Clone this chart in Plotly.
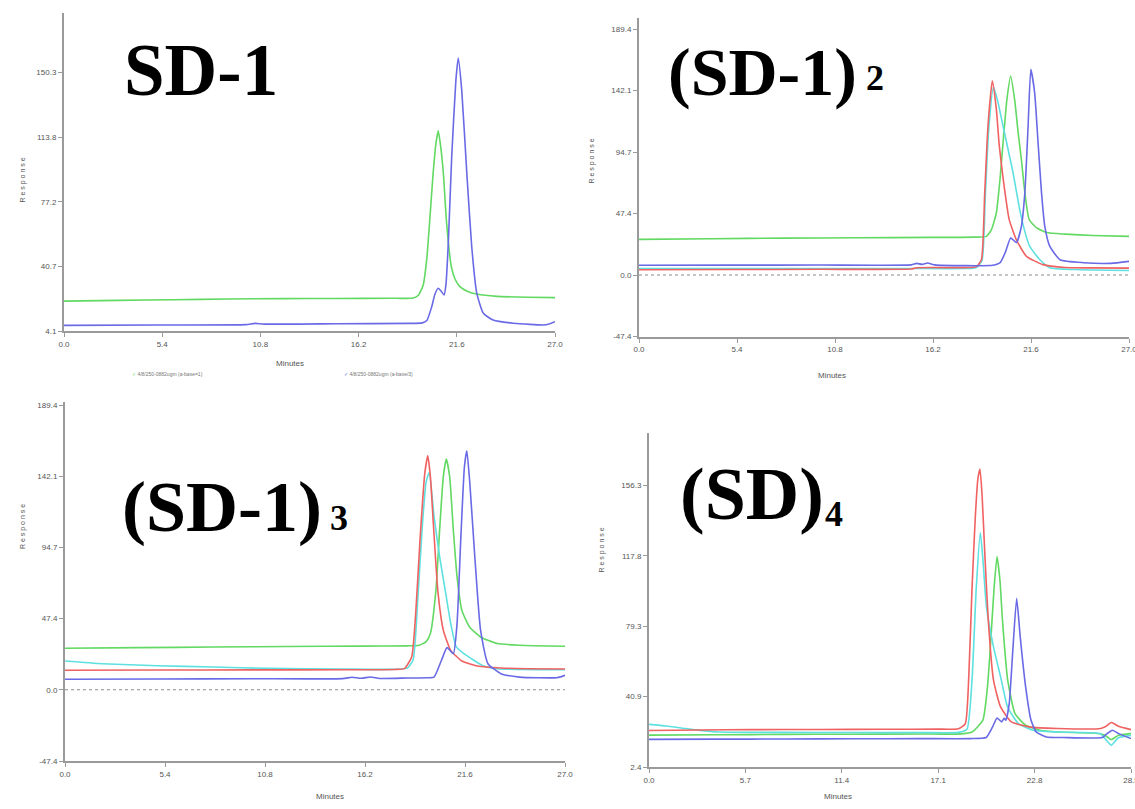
import plotly.graph_objects as go

W, H = 1135, 809

# ---------------- data ----------------
# Panel 1: SD-1
p1_green_t = [0, 3, 6, 9, 12, 15, 18, 19.2, 19.5, 19.75, 19.95, 20.1, 20.3, 20.45, 20.58, 20.72, 20.86, 21.04, 21.3, 21.5, 21.77, 22.2, 22.7, 23.8, 25.5, 27.0]
p1_green_v = [21.0, 21.4, 21.8, 22.2, 22.4, 22.5, 22.6, 22.8, 24.5, 30, 45, 65, 93.5, 110, 117.3, 108, 93.5, 65, 40.5, 33.5, 29.2, 26.5, 25, 23.7, 23.2, 23.0]
p1_blue_t = [0, 5, 10, 10.5, 11, 15, 19.0, 19.7, 19.95, 20.22, 20.4, 20.58, 20.75, 20.9, 21.0, 21.14, 21.32, 21.55, 21.68, 21.87, 22.15, 22.42, 22.7, 23.06, 23.6, 24.7, 26.5, 27.0]
p1_blue_v = [7.3, 7.5, 7.7, 8.4, 8.0, 8.2, 8.4, 8.7, 10, 17.8, 25, 28.3, 26.5, 24.5, 30, 55.6, 102.7, 146, 158.5, 140.5, 93.5, 51.9, 25.4, 14.1, 10.3, 8.5, 7.6, 9.4]

# Panel 2: (SD-1)2
p2_green_t = [0, 4, 8, 12, 16, 18.5, 19.14, 19.42, 19.69, 19.9, 20.06, 20.27, 20.48, 20.7, 20.89, 21.07, 21.26, 21.5, 21.9, 22.45, 23.5, 25, 27]
p2_green_v = [27.5, 28.0, 28.4, 28.7, 29.0, 29.2, 29.8, 35, 48, 75, 102, 135, 153.4, 135, 110, 89, 63.6, 42.7, 36.5, 32.7, 31.5, 30.5, 29.8]
p2_cyan_t = [0, 5, 10, 15, 18.0, 18.6, 18.9, 19.08, 19.27, 19.53, 19.75, 20.06, 20.35, 20.61, 20.98, 21.25, 21.53, 22.09, 22.64, 24, 27]
p2_cyan_v = [5.0, 5.0, 5.0, 5.0, 5.0, 5.8, 11, 60, 112, 144.7, 135, 114.8, 96, 78.8, 50.4, 34, 22, 11.8, 5.6, 4.2, 3.5]
p2_red_t = [0, 5, 10, 15, 15.3, 18.0, 18.6, 18.87, 19.05, 19.23, 19.47, 19.69, 19.85, 20.05, 20.4, 20.8, 21.35, 22.26, 23.5, 25, 27]
p2_red_v = [4.0, 4.2, 4.4, 4.6, 5.6, 5.7, 6.5, 12, 63.5, 115, 149.6, 127.7, 100, 76, 42.7, 27, 14.4, 8, 5.8, 5.5, 5.3]
p2_blue_t = [0, 5, 10, 15.0, 15.3, 15.6, 15.9, 16.3, 18, 19.5, 19.9, 20.2, 20.48, 20.8, 21.07, 21.26, 21.44, 21.59, 21.8, 21.99, 22.18, 22.36, 22.64, 23.2, 24.5, 26, 27]
p2_blue_v = [7.5, 7.6, 7.7, 7.8, 9.0, 8.2, 9.2, 7.8, 7.2, 7.5, 9.5, 18, 28.6, 25, 37.5, 63.3, 114.8, 158.6, 140.6, 101.9, 63.3, 37.5, 22, 11.8, 9.5, 9.0, 10.5]

# Panel 3: (SD-1)3
p3_green_t = [0, 4, 8, 12, 16, 18.5, 19.13, 19.5, 19.73, 20.03, 20.23, 20.43, 20.59, 20.77, 20.97, 21.17, 21.43, 21.84, 22.44, 23.34, 24.55, 27]
p3_green_v = [27.6, 28.0, 28.4, 28.8, 29.0, 29.2, 29.6, 32, 37.4, 66.3, 106.3, 141.9, 153.4, 141.9, 106.3, 75.2, 52.9, 41.8, 35.1, 30.7, 29.6, 28.9]
p3_cyan_t = [0, 2, 5, 8, 11, 15, 18.0, 18.5, 18.8, 19.05, 19.3, 19.5, 19.67, 19.93, 20.23, 20.53, 20.83, 21.13, 21.54, 21.94, 22.54, 23.34, 27]
p3_cyan_v = [19.1, 17.3, 16.0, 15.1, 14.2, 13.8, 13.6, 14.5, 20, 60, 110, 138, 144.5, 115.2, 88.5, 66.3, 44, 28.5, 24, 20.7, 16.2, 14, 13.3]
p3_red_t = [0, 5, 10, 15, 17.8, 18.32, 18.72, 18.96, 19.17, 19.43, 19.59, 19.73, 19.89, 20.13, 20.43, 20.83, 21.43, 22.34, 23.54, 25, 27]
p3_red_v = [13.0, 13.1, 13.2, 13.3, 13.5, 14.0, 21.8, 55.1, 99.6, 144.1, 155.6, 141.9, 110.7, 66.3, 39.6, 26.2, 19.1, 15.6, 14.5, 14.0, 13.8]
p3_blue_t = [0, 5, 10, 15, 15.5, 16, 16.5, 17, 18.5, 19.6, 19.93, 20.33, 20.63, 20.97, 21.17, 21.37, 21.57, 21.7, 21.86, 22.13, 22.44, 22.84, 23.54, 24.55, 26.56, 27]
p3_blue_v = [7.0, 7.1, 7.3, 7.4, 8.3, 7.6, 8.5, 7.5, 7.8, 8.0, 8.4, 19.6, 28, 24, 44, 99.6, 148.5, 159, 137.5, 88.5, 39.6, 17.3, 10.7, 8.4, 8.0, 9.6]

# Panel 4: (SD)4
p4_green_t = [0, 4, 8, 12, 16, 18.5, 19.1, 19.74, 20.0, 20.16, 20.41, 20.58, 20.75, 20.9, 21.21, 21.64, 22.27, 23.12, 24.17, 26.7, 27.0, 27.34, 27.76, 28.5]
p4_green_v = [19.8, 20.0, 20.2, 20.3, 20.4, 20.5, 21.5, 28, 45, 64.4, 100.9, 117.3, 104.5, 82.6, 49.8, 31.6, 25.2, 22.5, 21.5, 20.6, 19.5, 17.4, 19.7, 20.6]
p4_cyan_t = [0, 1, 2, 3, 4.1, 8, 12, 16, 18.3, 18.8, 19.1, 19.35, 19.59, 19.75, 19.95, 20.37, 20.79, 21.21, 21.85, 22.7, 24.17, 26.7, 27.0, 27.34, 27.76, 28.5]
p4_cyan_v = [25.7, 24.8, 23.6, 22.4, 21.5, 21.3, 21.2, 21.2, 21.3, 23, 50, 100, 130.4, 115, 90, 68, 51.6, 35, 26.1, 22.5, 21.5, 20.6, 17.5, 14.3, 18.4, 19.7]
p4_red_t = [0, 3, 6, 10, 14, 17, 18.3, 18.7, 18.9, 19.1, 19.3, 19.45, 19.57, 19.7, 19.85, 20.06, 20.37, 20.79, 21.43, 22.48, 24.17, 26.7, 27.0, 27.34, 27.76, 28.5]
p4_red_v = [22.3, 22.6, 22.8, 22.9, 23.0, 23.1, 23.3, 26, 50, 100, 140, 160, 165.1, 150, 120, 82.6, 49.8, 35.2, 27, 24.3, 23.4, 23.4, 24.5, 26.7, 24.6, 22.8]
p4_blue_t = [0, 4, 8, 12, 16, 19.0, 19.94, 20.3, 20.58, 20.85, 21.0, 21.1, 21.3, 21.5, 21.74, 21.95, 22.27, 22.59, 22.9, 23.5, 24.5, 26.8, 27.0, 27.4, 27.8, 28.5]
p4_blue_v = [17.5, 17.6, 17.7, 17.8, 17.9, 17.9, 18.5, 24, 29.2, 27, 29, 28, 37, 64.4, 94.5, 73.5, 46.2, 27.9, 21.5, 18.8, 18.5, 18.5, 20, 22.5, 20.5, 17.9]

# axis ticks
x_ticks_27 = [0.0, 5.4, 10.8, 16.2, 21.6, 27.0]
x_ticks_28 = [0.0, 5.7, 11.4, 17.1, 22.8, 28.5]
y_ticks_p1 = [4.1, 40.7, 77.2, 113.8, 150.3]
y_ticks_p23 = [-47.4, 0.0, 47.4, 94.7, 142.1, 189.4]
y_ticks_p4 = [2.4, 40.9, 79.3, 117.8, 156.3]

titles = ["SD-1", "(SD-1)", "(SD-1)", "(SD)"]
subs = ["", "2", "3", "4"]

# ---------------- styling ----------------
GREEN = "#62d962"
BLUE = "#6a6ae6"
RED = "#f06262"
CYAN = "#5ee0e0"
AX = "#9a9a9a"
TXT = "#555555"

def px_x(x):
    return x / W

def px_y(y):
    return 1 - y / H

# panel pixel boxes: left, right, top, bottom
boxes = [
    (64, 555, 13, 331),
    (639, 1129, 18, 336.5),
    (65, 565, 402, 761),
    (649, 1131, 433, 767),
]
yranges = [[4.1, 184.0], [-47.4, 198.1], [-47.4, 191.4], [2.4, 184.8]]
xranges = [[0, 27], [0, 27], [0, 27], [0, 28.5]]
xticks = [x_ticks_27, x_ticks_27, x_ticks_27, x_ticks_28]
yticks = [y_ticks_p1, y_ticks_p23, y_ticks_p23, y_ticks_p4]

panels = [
    [(p1_green_t, p1_green_v, GREEN), (p1_blue_t, p1_blue_v, BLUE)],
    [(p2_green_t, p2_green_v, GREEN), (p2_cyan_t, p2_cyan_v, CYAN), (p2_red_t, p2_red_v, RED), (p2_blue_t, p2_blue_v, BLUE)],
    [(p3_green_t, p3_green_v, GREEN), (p3_cyan_t, p3_cyan_v, CYAN), (p3_red_t, p3_red_v, RED), (p3_blue_t, p3_blue_v, BLUE)],
    [(p4_green_t, p4_green_v, GREEN), (p4_cyan_t, p4_cyan_v, CYAN), (p4_red_t, p4_red_v, RED), (p4_blue_t, p4_blue_v, BLUE)],
]

fig = go.Figure()
layout = dict(
    width=W, height=H, margin=dict(l=0, r=0, t=0, b=0, autoexpand=False),
    paper_bgcolor="white", plot_bgcolor="white", showlegend=False,
    font=dict(family="Liberation Sans", size=8, color=TXT),
)

for i, (box, series) in enumerate(zip(boxes, panels)):
    k = "" if i == 0 else str(i + 1)
    xa, ya = "x" + k, "y" + k
    for t, v, c in series:
        fig.add_trace(go.Scatter(x=t, y=v, mode="lines", xaxis=xa, yaxis=ya,
                                 line=dict(color=c, width=1.6, shape="spline", smoothing=0.5),
                                 hoverinfo="skip", cliponaxis=False))
    l, r, tp, bt = box
    common = dict(showgrid=False, zeroline=False, showline=True, linecolor=AX, linewidth=2,
                  ticks="outside", ticklen=4, tickcolor=AX, tickwidth=1, automargin=False,
                  ticklabeloverflow="allow",
                  tickfont=dict(family="Liberation Sans", size=8, color=TXT))
    layout["xaxis" + k] = dict(domain=[px_x(l), px_x(r)], range=xranges[i], anchor=ya,
                               tickvals=xticks[i], ticktext=["%.1f" % v for v in xticks[i]], **common)
    layout["yaxis" + k] = dict(domain=[px_y(bt), px_y(tp)], range=yranges[i], anchor=xa,
                               tickvals=yticks[i], ticktext=["%.1f" % v for v in yticks[i]], **common)

fig.update_layout(**layout)

# dotted zero lines in panels 2 and 3
for k in ["2", "3"]:
    fig.add_shape(type="line", xref="x" + k, yref="y" + k, x0=0, x1=27, y0=0, y1=0,
                  line=dict(color="#8c8c8c", width=1, dash="dot"))

ann = []
# axis titles
resp_pos = [(17, 156), (591, 137), (17, 527), (601, 575)]
min_pos = [(274, 364), (848, 375), (314, 803), (854, 803)]
for (x, y) in resp_pos:
    ann.append(dict(text="R e s p o n s e", x=px_x(x), y=px_y(y), xref="paper", yref="paper",
                    showarrow=False, textangle=-90, font=dict(size=7, color=TXT)))
for (x, y) in min_pos:
    ann.append(dict(text="Minutes", x=px_x(x), y=px_y(y), xref="paper", yref="paper",
                    showarrow=False, font=dict(size=8, color=TXT)))

# big panel titles
title_pos = [(122, 71, 73), (666, 72, 68), (120, 507, 72), (678, 494, 74)]
sub_pos = [None, (864, 78), (328, 518), (823, 514)]
for i in range(4):
    x, y, s = title_pos[i]
    ann.append(dict(text="<b>%s</b>" % titles[i], x=px_x(x), y=px_y(y), xref="paper", yref="paper",
                    xanchor="left", yanchor="middle", showarrow=False,
                    font=dict(family="Liberation Serif", size=s, color="black")))
    if sub_pos[i]:
        sx, sy = sub_pos[i]
        ann.append(dict(text="<b>%s</b>" % subs[i], x=px_x(sx), y=px_y(sy), xref="paper", yref="paper",
                        xanchor="left", yanchor="middle", showarrow=False,
                        font=dict(family="Liberation Serif", size=36, color="black")))

# tiny legend under panel 1
leg_items = [("✓ ", GREEN, "4/8/250-0882ugm (a-base=1)", 130), ("✓ ", BLUE, "4/8/250-0882ugm (a-base/3)", 342)]
for mark, col, txt, x in leg_items:
    ann.append(dict(text='<span style="color:%s">%s</span>%s' % (col, mark, txt), x=px_x(x), y=px_y(374),
                    xref="paper", yref="paper", xanchor="left", showarrow=False,
                    font=dict(size=5, color="#777777")))

fig.update_layout(annotations=ann)
fig.write_html("out.html", config={"displayModeBar": False},
               post_script="document.body.style.margin='0px';document.body.style.overflow='hidden';")
